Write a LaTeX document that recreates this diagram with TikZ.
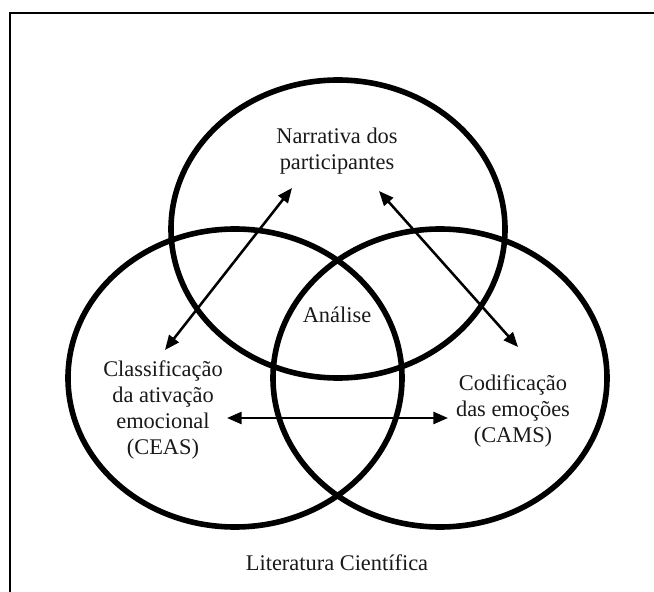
\documentclass[tikz,border=0pt]{standalone}
\usepackage{fontspec}
\setmainfont{Liberation Serif}
\usetikzlibrary{arrows.meta}

\tikzset{every picture/.style={line width=0.75pt}}
\tikzset{
  venn/.style={line width=4.2pt},
  link/.style={line width=1.9pt, {Triangle[length=11pt,width=9pt]}-{Triangle[length=11pt,width=9pt]}},
  vtext/.style={font=\fontsize{16.8}{19.5}\selectfont, align=center, text=black!90}
}

\begin{document}
\begin{tikzpicture}[x=0.75pt,y=0.75pt,yscale=-1,xscale=1]
\useasboundingbox (0,0) rectangle (654,592);
\clip (0,0) rectangle (654,592);

%Shape: Frame
\draw [line width=2pt] (10,13) rectangle (700,650) ;

%Shape: Ellipse (top)
\draw [venn] (338,229) ellipse [x radius=167, y radius=149] ;
%Shape: Ellipse (left)
\draw [venn] (235,378) ellipse [x radius=167, y radius=149] ;
%Shape: Ellipse (right)
\draw [venn] (440,378) ellipse [x radius=167, y radius=149] ;

% Text Node
\node [vtext] (narr) at (337,151) {Narrativa dos\\participantes};
% Text Node
\node [vtext] (anal) at (337,315) {Análise};
% Text Node
\node [vtext] (ceas) at (163,410) {Classificação\\da ativação\\emocional\\(CEAS)};
% Text Node
\node [vtext] (cams) at (513,411) {Codificação\\das emoções\\(CAMS)};
% Text Node
\node [vtext] (lit) at (337,563) {Literatura Científica};

% arrow ends
\coordinate (narr-l) at (292,188);
\coordinate (narr-r) at (379,191);
\coordinate (ceas-t) at (165,350);
\coordinate (ceas-r) at (227,418);
\coordinate (cams-t) at (518,347);
\coordinate (cams-l) at (448,418);

%Straight Lines
\draw [link] (ceas-t) -- (narr-l) ;
%Straight Lines
\draw [link] (narr-r) -- (cams-t) ;
%Straight Lines
\draw [link] (ceas-r) -- (cams-l) ;

\end{tikzpicture}
\end{document}
